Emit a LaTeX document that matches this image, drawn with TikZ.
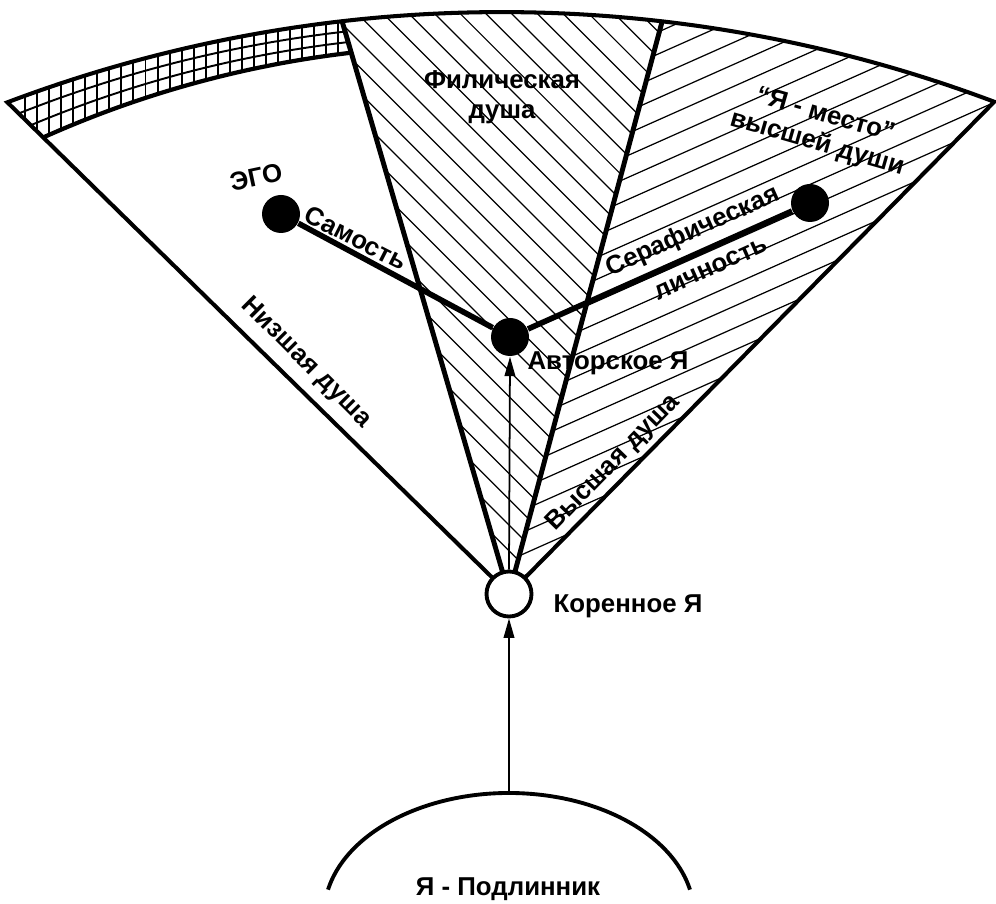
\documentclass[tikz,border=0pt]{standalone}
\usepackage{fontspec}
\setmainfont{Liberation Sans}
\usetikzlibrary{calc,arrows.meta}
\begin{document}
\begin{tikzpicture}[
  lbl/.style={font=\bfseries\fontsize{7.35}{8.4}\selectfont, inner sep=0pt, align=center},
  dot/.style={circle, fill=black, minimum size=0.38cm, inner sep=0pt},
  rootst/.style={circle, draw=black, line width=1.1pt, fill=white, minimum size=0.45cm, inner sep=0pt},
  conn/.style={line width=1.6pt},
  arr/.style={line width=0.5pt, -{Triangle[length=5.5pt,width=3pt]}},
  hatch/.style={line width=0.35pt},
  gridl/.style={line width=0.55pt},
  bound/.style={line width=1.4pt},
]
\useasboundingbox (0,-9.04) rectangle (9.96,0);
\coordinate (O) at (5.015,-14.10);
\coordinate (I) at (4.754,-11.04);
\coordinate (rc) at (5.09,-5.94);
\path (O) ++(110.7:13.98) coordinate (L);
\path (O) ++(96.55:13.98) coordinate (PL);
\path (O) ++(83.4:13.98) coordinate (PR);
\path (O) ++(69.36:13.98) coordinate (Rt);

% cross-hatched band
\begin{scope}
  \clip (rc) -- ($(rc)!1.3!(L)$) -- ($(rc)!1.3!(PL)$) -- cycle;
  \begin{scope}
    \clip (O) circle (13.98);
    \foreach \k in {0,...,26} \draw[gridl] ({0.25+0.1205*\k},0) -- ({0.25+0.1205*\k},-2);
    \draw[gridl] (4.928,-13.08) circle (12.848);
    \draw[gridl] (4.841,-12.06) circle (11.717);
  \end{scope}
  \fill[white] (I) circle (10.585);
  \draw[line width=1.2pt] (I) circle (10.585);
\end{scope}

% philic hatch
\begin{scope}
  \clip (rc) -- ($(rc)!1.3!(PL)$) -- ($(rc)!1.3!(PR)$) -- cycle;
  \clip (O) circle (13.98);
  \foreach \k in {0,...,30} \draw[hatch] (2,{-0.931+0.257*\k-2}) -- (8,{-0.931+0.257*\k-8});
\end{scope}

% higher soul hatch
\begin{scope}
  \clip (rc) -- ($(rc)!1.3!(PR)$) -- ($(rc)!1.3!(Rt)$) -- cycle;
  \clip (O) circle (13.98);
  \foreach \k in {-10,...,14} \draw[hatch] (4.5,{0.445*4.5-6.109+0.22*\k}) -- (10.5,{0.445*10.5-6.109+0.22*\k});
\end{scope}

% outline of the fan
\draw[line width=1.15pt, line join=miter] (rc) -- (L) arc[start angle=110.7, end angle=69.36, radius=13.98] -- cycle;
\draw[bound] (rc) -- (PL);
\draw[bound] (rc) -- (PR);

% dots and connectors
\node[dot] (ego) at (2.81,-2.14) {};
\node[dot] (author) at (5.10,-3.37) {};
\node[dot] (seraph) at (8.10,-2.03) {};
\draw[conn] (ego) -- (author) -- (seraph);

\node[rootst] (root) at (rc) {};
\coordinate (podtop) at (5.09,-7.93);
\draw[line width=1.1pt] (5.09,-9.15) ++(168:1.85 and 1.22) arc[start angle=168, end angle=12, x radius=1.85, y radius=1.22];
\draw[arr] (podtop) -- (root.south);
\draw[arr] (root.north) -- (author.south);

% labels
\node[lbl, rotate=12] (egol) at (2.56,-1.77) {ЭГО};
\node[lbl, rotate=-27] (samost) at (3.56,-2.38) {Самость};
\node[lbl, rotate=-45] (nizsh) at (3.06,-3.63) {Низшая душа};
\node[lbl] (filic) at (5.02,-0.97) {Филическая\\душа};
\node[lbl, rotate=-16] (mesto) at (8.21,-1.30) {“Я - место”\\высшей души};
\node[lbl, rotate=24.2] (ser1) at (6.93,-2.32) {Серафическая};
\node[lbl, rotate=24.2] (ser2) at (7.11,-2.69) {личность};
\node[lbl] (authl) at (6.08,-3.63) {Авторское Я};
\node[lbl, rotate=45.7] (vysh) at (6.135,-4.63) {Высшая душа};
\node[lbl] (rootl) at (6.28,-6.06) {Коренное Я};
\node[lbl] (podl) at (5.08,-8.89) {Я - Подлинник};
\end{tikzpicture}
\end{document}
